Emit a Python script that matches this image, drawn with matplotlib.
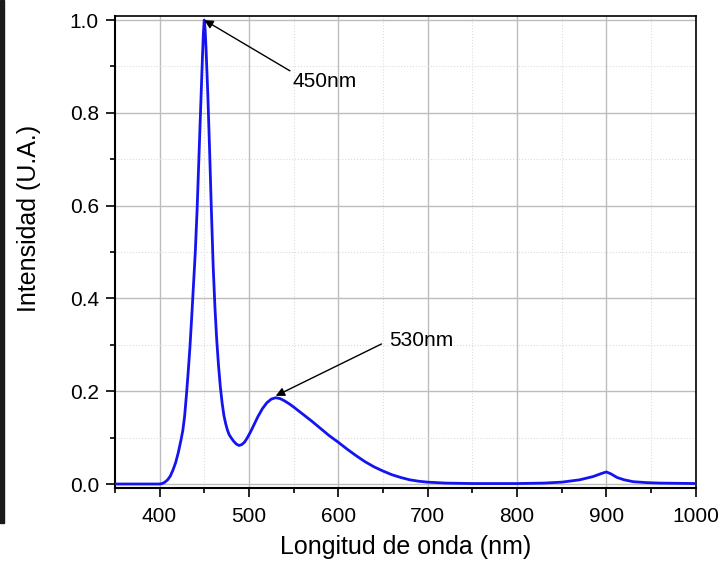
"""Espectro de emision de un LED blanco."""
import matplotlib
matplotlib.use('Agg')
import matplotlib.pyplot as plt
from matplotlib.patches import Rectangle
from matplotlib.ticker import MultipleLocator

plt.rcParams['font.family'] = ['Liberation Sans', 'DejaVu Sans']

# Longitud de onda (nm) e intensidad normalizada
wavelength = [350, 380, 400, 403, 406, 409, 412, 415, 418, 421, 424, 426,
              428, 430, 432, 434, 436, 438, 440, 442, 444, 446, 448, 449,
              450, 451, 452, 454, 456, 458, 460, 462, 464, 466, 468, 470,
              472, 474, 476, 478, 480, 483, 486, 489, 492, 495, 498, 502,
              506, 510, 515, 520, 525, 530, 535, 540, 545, 550, 560, 570,
              580, 590, 600, 610, 620, 630, 640, 650, 660, 670, 680, 690,
              700, 720, 750, 800, 830, 850, 870, 885, 895, 900, 905, 912,
              920, 930, 945, 960, 1000]
intensity = [0.000, 0.000, 0.000, 0.001, 0.004, 0.009, 0.017, 0.030, 0.046,
             0.068, 0.095, 0.115, 0.145, 0.190, 0.240, 0.295, 0.360, 0.430,
             0.500, 0.590, 0.700, 0.810, 0.920, 0.970, 1.000, 0.980, 0.940,
             0.840, 0.720, 0.590, 0.470, 0.380, 0.310, 0.255, 0.210, 0.175,
             0.148, 0.130, 0.116, 0.106, 0.100, 0.092, 0.086, 0.083, 0.085,
             0.090, 0.099, 0.113, 0.129, 0.145, 0.162, 0.175, 0.183, 0.186,
             0.184, 0.179, 0.173, 0.166, 0.151, 0.136, 0.120, 0.104, 0.090,
             0.075, 0.061, 0.048, 0.037, 0.028, 0.020, 0.014, 0.009, 0.006,
             0.004, 0.002, 0.001, 0.001, 0.002, 0.004, 0.009, 0.016, 0.023,
             0.026, 0.022, 0.014, 0.009, 0.005, 0.003, 0.002, 0.001]

peaks = [(450, 1.0, '450nm'), (530, 0.19, '530nm')]
label_pos = [(549, 0.887), (657, 0.31)]

fig = plt.figure(figsize=(7.27, 5.67), dpi=100)
ax = fig.add_axes([0.158, 0.139, 0.799, 0.833])

# borde oscuro a la izquierda de la captura
fig.patches.append(Rectangle((0, 1 - 523 / 567), 4 / 727, 523 / 567,
                             transform=fig.transFigure, color='#1a1a1a',
                             zorder=0))

ax.plot(wavelength, intensity, color='#1414f0', lw=2.0, zorder=3)

ax.set_xlim(350, 1000)
ax.set_ylim(-0.009, 1.009)
ax.xaxis.set_major_locator(MultipleLocator(100))
ax.xaxis.set_minor_locator(MultipleLocator(50))
ax.yaxis.set_major_locator(MultipleLocator(0.2))
ax.yaxis.set_minor_locator(MultipleLocator(0.1))
ax.yaxis.set_major_formatter(plt.FormatStrFormatter('%.1f'))

ax.grid(True, which='major', color='#bdbdbd', lw=1.0)
ax.grid(True, which='minor', color='#dcdcdc', lw=0.8, ls=':')
ax.set_axisbelow(True)

ax.tick_params(which='major', direction='out', length=6.5, width=1.2,
               labelsize=15, pad=5)
ax.tick_params(which='minor', direction='out', length=3.5, width=1.2)
ax.tick_params(axis='x', which='major', pad=7)

for side in ['left', 'bottom']:
    ax.spines[side].set_linewidth(1.5)
for side in ['top', 'right']:
    ax.spines[side].set_linewidth(1.2)

ax.set_xlabel('Longitud de onda (nm)', fontsize=18)
ax.set_ylabel('Intensidad (U.A.)', fontsize=18)
ax.xaxis.set_label_coords(0.5, -0.099)
ax.yaxis.set_label_coords(-0.127, 0.572)

rel = [(0, 1), (0, 0.5)]
for (px, py, txt), (tx, ty), rp in zip(peaks, label_pos, rel):
    ax.annotate(txt, xy=(px, py), xytext=(tx, ty), fontsize=15,
                ha='left', va='top' if rp[1] == 1 else 'center',
                arrowprops=dict(arrowstyle='-|>', color='black', lw=1.0,
                                mutation_scale=13, shrinkA=4 if rp[1] != 1 else 0,
                                shrinkB=0, relpos=rp))

fig.savefig('out.png', dpi=100)
